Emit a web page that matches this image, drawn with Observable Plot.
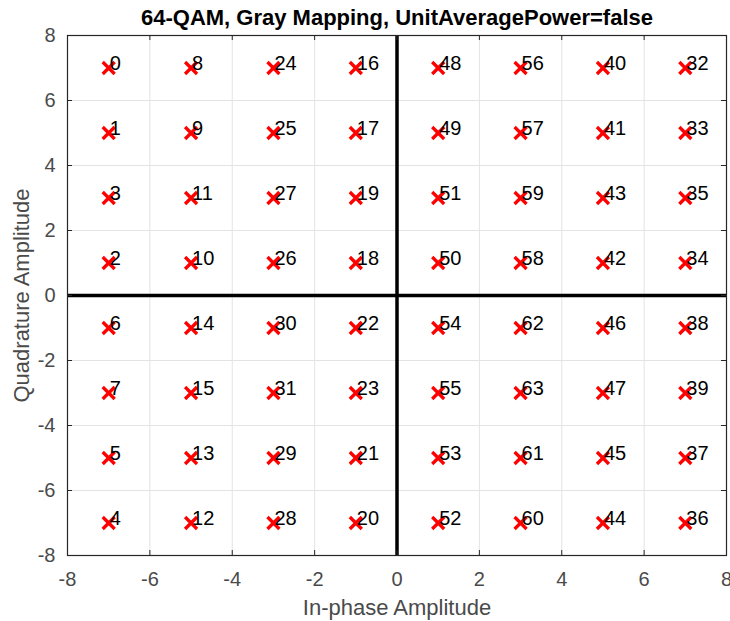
<!DOCTYPE html>
<html>
<head>
<meta charset="utf-8">
<script src="https://cdn.jsdelivr.net/npm/d3@7"></script>
<script src="https://cdn.jsdelivr.net/npm/@observablehq/plot@0.6"></script>
<style>
  html, body { margin: 0; padding: 0; background: #fff; }
</style>
</head>
<body>
<div id="chart"></div>
<script>
const chartTitle = "64-QAM, Gray Mapping, UnitAveragePower=false";
const xLabel = "In-phase Amplitude";
const yLabel = "Quadrature Amplitude";

// In-phase (columns) and quadrature (rows) levels
const inPhaseLevels = [-7, -5, -3, -1, 1, 3, 5, 7];
const quadratureLevels = [7, 5, 3, 1, -1, -3, -5, -7];

// Symbol index for each row (top to bottom), columns left to right
const symbolRows = [
  [0, 8, 24, 16, 48, 56, 40, 32],
  [1, 9, 25, 17, 49, 57, 41, 33],
  [3, 11, 27, 19, 51, 59, 43, 35],
  [2, 10, 26, 18, 50, 58, 42, 34],
  [6, 14, 30, 22, 54, 62, 46, 38],
  [7, 15, 31, 23, 55, 63, 47, 39],
  [5, 13, 29, 21, 53, 61, 45, 37],
  [4, 12, 28, 20, 52, 60, 44, 36]
];

const xTicks = [-8, -6, -4, -2, 0, 2, 4, 6, 8];
const yTicks = [-8, -6, -4, -2, 0, 2, 4, 6, 8];

const points = [];
quadratureLevels.forEach((q, r) => {
  inPhaseLevels.forEach((i, c) => {
    points.push({i, q, label: String(symbolRows[r][c])});
  });
});

const W = 730, H = 621;
const mL = 67, mR = 4, mT = 35, mB = 66;
const fw = W - mL - mR, fh = H - mT - mB;
const axisColor = "#262626";
const tickLen = 5;

const chart = Plot.plot({
  width: W,
  height: H,
  marginLeft: mL,
  marginRight: mR,
  marginTop: mT,
  marginBottom: mB,
  style: {fontFamily: "'Liberation Sans', Arial, Helvetica, sans-serif", fontSize: "20px", background: "#fff", color: axisColor},
  x: {domain: [-8, 8]},
  y: {domain: [-8, 8]},
  marks: [
    Plot.gridX(xTicks, {stroke: "#e3e3e3", strokeOpacity: 1}),
    Plot.gridY(yTicks, {stroke: "#e3e3e3", strokeOpacity: 1}),
    Plot.ruleX([0], {stroke: "#000", strokeWidth: 3.5}),
    Plot.ruleY([0], {stroke: "#000", strokeWidth: 3.5}),
    Plot.frame({stroke: axisColor, strokeWidth: 1.2}),
    // inward tick marks on all four sides
    Plot.tickX(xTicks, {x: d => d, stroke: axisColor, insetTop: fh - tickLen}),
    Plot.tickX(xTicks, {x: d => d, stroke: axisColor, insetBottom: fh - tickLen}),
    Plot.tickY(yTicks, {y: d => d, stroke: axisColor, insetRight: fw - tickLen}),
    Plot.tickY(yTicks, {y: d => d, stroke: axisColor, insetLeft: fw - tickLen}),
    Plot.axisX(xTicks, {anchor: "bottom", tickSize: 0, tickPadding: 16, label: null, tickFormat: d => String(d), fill: "#4a4a4a", fontSize: 20}),
    Plot.axisY(yTicks, {anchor: "left", tickSize: 0, tickPadding: 12, label: null, tickFormat: d => String(d), fill: "#4a4a4a", fontSize: 20}),
    Plot.dot(points, {x: "i", y: "q", symbol: "times", r: 5.5, stroke: "#ff0000", strokeWidth: 3.3}),
    Plot.text(points, {x: "i", y: "q", text: "label", textAnchor: "start", dx: 1, dy: -4.7, fill: "#000", fontSize: 20}),
    Plot.text([xLabel], {frameAnchor: "bottom", lineAnchor: "middle", textAnchor: "middle", dy: 52, fill: "#4a4a4a", fontSize: 22}),
    Plot.text([yLabel], {frameAnchor: "left", lineAnchor: "middle", textAnchor: "middle", rotate: -90, dx: -46, fill: "#4a4a4a", fontSize: 22}),
    Plot.text([chartTitle], {frameAnchor: "top", lineAnchor: "middle", textAnchor: "middle", dy: -18, fill: "#000", fontSize: 22, fontWeight: "bold"})
  ]
});
document.getElementById("chart").appendChild(chart);
</script>
</body>
</html>
